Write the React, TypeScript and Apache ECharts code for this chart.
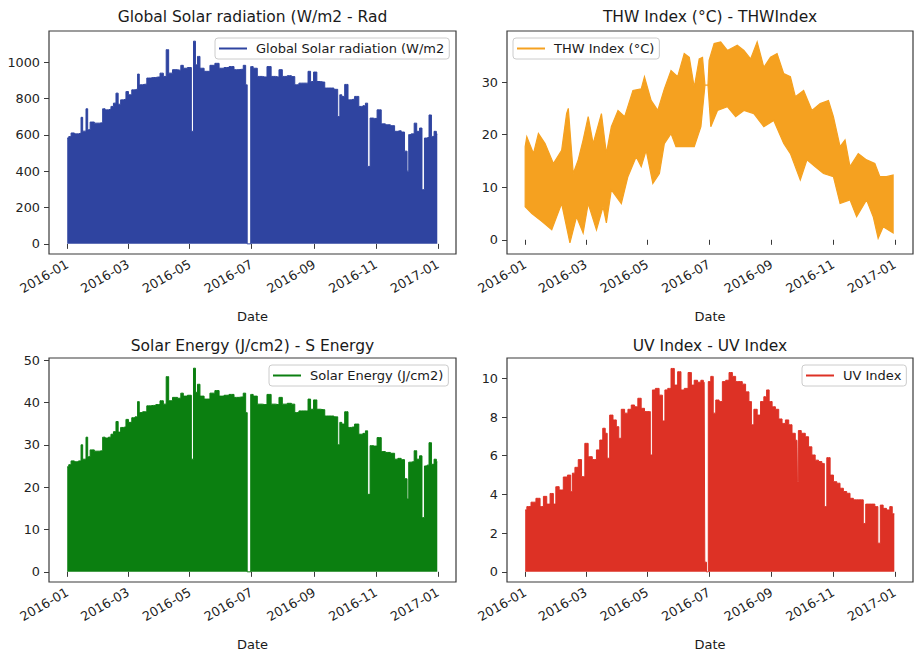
import React, { useEffect, useRef } from 'react';
import * as echarts from 'echarts';

// x tick labels (month starts shown on every panel)
const tickDates = ['2016-01-01', '2016-03-01', '2016-05-01', '2016-07-01', '2016-09-01', '2016-11-01', '2017-01-01'];

// Solar panels: day of 2016 (0 = Jan 1) and daily peak envelope
const solarDay = [
  0, 3, 4.6, 9.5, 12.8, 14.5, 16, 17.7, 19.4, 21,
  24.3, 29.2, 34.2, 35.8, 39, 42.4, 44, 47.3, 49, 51.6,
  53.9, 57.2, 58.8, 62.1, 65.4, 68.7, 70.3, 72, 77, 80.2,
  85, 90, 93.3, 96.6, 98.9, 101.5, 106.5, 111.4, 113, 116.3,
  121.2, 124, 125.5, 127.8, 129.5, 132.7, 137.7, 144.2, 147.5, 152.5,
  157.4, 162.3, 167.2, 172.2, 175.5, 177, 178.5, 180.5, 182, 185.3,
  190.2, 195.2, 199.4, 203.4, 208.3, 210, 214.9, 219.8, 223.1, 226.4,
  231.3, 236.2, 239.5, 241.2, 245.4, 247.7, 252.7, 256, 260.9, 265.8,
  268.5, 270, 272.4, 275.7, 279, 282.2, 285.5, 290.5, 293.7, 295.4,
  298, 300.3, 303.6, 308.5, 311.8, 316.7, 321.7, 325, 328.2, 331.5,
  334.8, 336.5, 338.1, 341.4, 344, 346.4, 349.6, 351.2, 354.5, 356.2,
  358.5, 361, 363.7, 365.5,
];
const radValue = [
  582, 590, 610, 605, 608, 696, 620, 620, 743, 628,
  670, 664, 666, 743, 737, 740, 756, 774, 829, 768,
  792, 795, 838, 820, 847, 850, 934, 875, 878, 912,
  915, 918, 939, 921, 1068, 939, 958, 955, 982, 966,
  970, 619, 1115, 985, 1031, 966, 949, 982, 993, 966,
  970, 975, 958, 960, 982, 875, 0, 0, 975, 966,
  921, 918, 975, 921, 918, 958, 921, 925, 920, 875,
  884, 884, 949, 893, 945, 893, 890, 857, 857, 850,
  700, 820, 811, 877, 792, 795, 811, 756, 760, 774,
  426, 692, 690, 737, 660, 655, 650, 619, 622, 615,
  510, 400, 601, 605, 664, 619, 637, 298, 582, 585,
  709, 591, 619, 604,
];
const energyValue = [
  24.8, 25.3, 26.2, 26, 26.2, 30, 26.6, 26.6, 31.8, 27.2,
  28.8, 28.5, 28.6, 31.8, 31.6, 31.8, 32.5, 33.1, 35.5, 33,
  34.1, 34.2, 36, 35.3, 36.4, 36.6, 40.2, 37.6, 37.8, 39.2,
  39.3, 39.5, 40.4, 39.6, 46.1, 40.4, 41.2, 41, 42.2, 41.5,
  41.7, 26.6, 48.1, 42.4, 44.3, 41.5, 40.8, 42.2, 42.8, 41.5,
  41.7, 41.9, 41.2, 41.3, 42.2, 37.6, 0, 0, 41.9, 41.5,
  39.6, 39.5, 41.9, 39.6, 39.5, 41.2, 39.6, 39.8, 39.6, 37.6,
  38, 38, 40.8, 38.4, 40.6, 38.4, 38.3, 36.8, 36.8, 36.6,
  30, 35.3, 34.9, 37.8, 34.1, 34.2, 34.9, 32.5, 32.7, 33.3,
  18.3, 29.8, 29.7, 31.7, 28.4, 28.2, 28, 26.6, 26.8, 26.5,
  22, 17.2, 25.9, 26, 28.6, 26.6, 27.4, 12.8, 25, 25.2,
  30.5, 25.4, 26.6, 26,
];

// THW index: daily highs and lows envelope
const thwHighDay = [
  0, 1.6, 8.2, 13.1, 19.7, 27.9, 36.1, 41, 42.7, 47.6,
  52.5, 57.4, 62.4, 67.3, 75.5, 80.4, 85.3, 91.9, 98.5, 106.7,
  114.9, 118.1, 124.7, 131.3, 137.8, 144.4, 151, 157.5, 162.5, 167.4,
  172.3, 175.6, 178, 181, 182.1, 187.1, 193.6, 200.2, 210, 216.6,
  223.2, 229.7, 236.3, 242.9, 249.4, 256, 262.6, 267.5, 275.7, 283.9,
  292.1, 300.3, 305.2, 311.8, 316.7, 321.6, 329.8, 338, 346.2, 351.2,
  357.7, 364.3,
];
const thwHigh = [
  17.7, 19.6, 16.4, 20.2, 18.3, 14.5, 17, 24, 25, 12.6,
  15.2, 19, 23.4, 18.3, 24, 16.4, 21.5, 24.6, 23.4, 28.4,
  28.7, 31, 26.5, 24.6, 28.7, 32.2, 31, 35.4, 34.7, 29,
  34.4, 34.7, 29.4, 29.4, 34.1, 37.3, 37.6, 36, 37, 36,
  34.4, 37.6, 32.8, 34.7, 35.4, 31.6, 31, 27.2, 28.4, 24.6,
  25.9, 26.5, 23.4, 17.7, 19, 13.9, 16.4, 15.2, 14.5, 12,
  12, 12.3,
];
const thwLowDay = [
  0, 6.6, 16.4, 26.3, 31.2, 36.1, 44.3, 50.9, 57.4, 62.4,
  70.6, 77.1, 80.4, 85.3, 95.2, 101.7, 109.9, 114.9, 119.8, 126.4,
  132.9, 137.8, 144.4, 149.3, 157.5, 167.4, 174, 178, 181, 183.8,
  190.4, 200.2, 208.4, 216.6, 226.4, 236.3, 246.1, 256, 262.6, 272.4,
  279, 287.2, 295.4, 305.2, 311.8, 321.6, 328.2, 338, 344.6, 349.5,
  354.5, 364.3,
];
const thwLow = [
  6.3, 5, 3.5, 1.9, 4.4, 6.9, -0.6, 4.4, 1.3, 6.9,
  1.9, 6.3, 3.2, 9.5, 6.9, 12, 15.8, 13.9, 17, 10.7,
  12.6, 18.3, 20.2, 17.7, 17.7, 17.7, 21.5, 29.4, 29.4, 21.5,
  24.6, 25.3, 23.4, 24.6, 24, 21.5, 22.7, 18.3, 16.4, 11.4,
  15.2, 13.9, 12.6, 12, 6.9, 7.6, 4.4, 7.6, 4.4, 0.3,
  2.5, 1.3,
];

// UV index daily peak envelope
const uvDay = [
  0, 3.3, 8.2, 13.1, 16.4, 19.7, 23, 26.3, 29.5, 31.2,
  36.1, 39.4, 44.3, 45.9, 47.6, 50.9, 54.2, 57.4, 60.7, 64,
  68.9, 72.2, 75.5, 78.1, 80.4, 82, 85.3, 88.6, 91.9, 93.5,
  96.8, 100.1, 103.4, 106.7, 109.9, 113.2, 116.5, 119.8, 123.1, 124.7,
  127.3, 130.6, 134.6, 137.2, 139.5, 142.8, 146, 149.3, 152.6, 155.9,
  159.2, 163.4, 165.7, 169, 172.3, 175.6, 177.2, 178.5, 180.5, 182.1,
  185.4, 187, 190.4, 193.6, 196.9, 200.2, 203.5, 206.8, 210, 213.3,
  216.6, 219.9, 223.2, 224.8, 228.1, 231.4, 234.7, 237.9, 240.2, 242.9,
  246.1, 249.4, 252.7, 256, 259.3, 262.6, 265.8, 269.1, 270, 271,
  275.7, 279, 282.2, 285.5, 288.8, 292.1, 295.4, 297, 300.3, 303.6,
  306.9, 310.1, 313.4, 316.7, 320, 323.3, 326.6, 329.8, 333.1, 336.4,
  338, 341.3, 344.6, 347.9, 350.5, 352.8, 356.1, 359.4, 362.6, 364.3,
  365.5,
];
const uvValue = [
  3.2, 3.37, 3.6, 3.8, 3.37, 3.9, 3.5, 4.05, 3.5, 4.4,
  4.23, 4.9, 5.0, 4.15, 5.1, 5.4, 5.8, 4.92, 6.64, 5.95,
  5.8, 6.3, 6.81, 7.42, 7.16, 5.87, 8.1, 7.85, 7.5, 6.9,
  8.4, 8.2, 8.4, 8.62, 8.53, 8.97, 8.45, 8.28, 8.28, 6.04,
  9.4, 9.48, 9.13, 7.8, 9.4, 9.48, 10.51, 9.65, 10.34, 9.4,
  9.48, 10.3, 9.65, 9.9, 9.8, 9.9, 9.8, 0.5, 0, 9.83,
  10.1, 8.2, 8.88, 8.8, 9.83, 9.9, 10.3, 10.1, 9.83, 9.83,
  9.7, 9.3, 8.8, 7.6, 8.4, 8.1, 8.8, 9.05, 9.4, 8.8,
  8.53, 8.4, 7.9, 7.67, 7.85, 7.6, 7.16, 6.8, 4.66, 7.3,
  7.16, 6.98, 6.46, 6.04, 5.77, 5.7, 5.6, 3.37, 5.9, 5.0,
  4.66, 4.58, 4.32, 4.15, 4.06, 3.8, 3.72, 3.72, 3.72, 2.5,
  3.5, 3.5, 3.5, 3.37, 1.48, 3.45, 3.28, 3.2, 3.37, 3.0,
  3.0,
];

const radTicks = [0, 200, 400, 600, 800, 1000];
const thwTicks = [0, 10, 20, 30];
const energyTicks = [0, 10, 20, 30, 40, 50];
const uvTicks = [0, 2, 4, 6, 8, 10];

const FONT = "'DejaVu Sans', 'Liberation Sans', sans-serif";
const DAY = 86400000;
const T0 = Date.UTC(2016, 0, 1);
const toTime = (d: number) => T0 + d * DAY;
const xTicks = tickDates.map((s) => Date.parse(s + 'T00:00:00Z'));
const fmtMonth = (v: number) => {
  const d = new Date(v);
  return d.getUTCFullYear() + '-' + String(d.getUTCMonth() + 1).padStart(2, '0');
};
const pairs = (days: number[], vals: number[]) => days.map((d, i) => [toTime(d), vals[i]]);

const BLUE = '#2F44A0';
const ORANGE = '#F5A120';
const GREEN = '#0B7F10';
const RED = '#DD3125';
const AXIS = '#3a3a3a';
const TICKFONT = 12.8;

function buildOption() {
  const grids = [
    { left: 49, top: 31, width: 407, height: 223 },
    { left: 507, top: 31, width: 406, height: 223 },
    { left: 49, top: 358, width: 407, height: 224 },
    { left: 507, top: 358, width: 406, height: 224 },
  ].map((g) => ({ ...g, show: true, borderColor: AXIS, borderWidth: 1.2, backgroundColor: '#fff' }));

  const xAxis = [0, 1, 2, 3].map((gi) => ({
    type: 'value',
    gridIndex: gi,
    min: T0 - 18 * DAY,
    max: T0 + 384 * DAY,
    name: 'Date',
    nameLocation: 'middle',
    nameGap: 56,
    nameTextStyle: { fontSize: 13, color: '#1a1a1a', fontFamily: FONT },
    axisLine: { show: false },
    splitLine: { show: false },
    axisTick: { show: true, customValues: xTicks, length: 5, lineStyle: { color: AXIS, width: 1 } },
    axisLabel: {
      customValues: xTicks,
      rotate: 30,
      margin: 9,
      fontSize: TICKFONT,
      color: '#222',
      fontFamily: FONT,
      formatter: (v: number) => fmtMonth(v),
    },
  }));

  const yDefs = [
    { min: -55.75, max: 1170.75, ticks: radTicks },
    { min: -2.7, max: 39.7, ticks: thwTicks },
    { min: -2.4, max: 50.5, ticks: energyTicks },
    { min: -0.525, max: 11.05, ticks: uvTicks },
  ];
  const yAxis = yDefs.map((y, gi) => ({
    type: 'value',
    gridIndex: gi,
    min: y.min,
    max: y.max,
    axisLine: { show: false },
    splitLine: { show: false },
    axisTick: { show: true, customValues: y.ticks, length: 5, lineStyle: { color: AXIS, width: 1 } },
    axisLabel: {
      customValues: y.ticks,
      margin: 9,
      fontSize: TICKFONT,
      color: '#222',
      fontFamily: FONT,
      formatter: (v: number) => String(v),
    },
  }));

  const solarSeries = (name: string, gi: number, color: string, data: number[][]) => ({
    type: 'line',
    name,
    xAxisIndex: gi,
    yAxisIndex: gi,
    data,
    step: 'middle',
    symbol: 'none',
    showSymbol: false,
    lineStyle: { color, width: 1 },
    itemStyle: { color },
    areaStyle: { color, opacity: 1 },
  });

  const highPts = pairs(thwHighDay, thwHigh);
  const lowPts = pairs(thwLowDay, thwLow);

  const series = [
    solarSeries('Global Solar radiation (W/m2', 0, BLUE, pairs(solarDay, radValue)),
    {
      type: 'custom',
      name: 'THW Index (°C)',
      coordinateSystem: 'cartesian2d',
      xAxisIndex: 1,
      yAxisIndex: 1,
      data: highPts.slice(0, 1),
      encode: { x: 0, y: 1 },
      itemStyle: { color: ORANGE },
      clip: true,
      renderItem: (_params: any, api: any) => {
        const pts: number[][] = [];
        highPts.forEach((p) => pts.push(api.coord(p)));
        for (let i = lowPts.length - 1; i >= 0; i--) pts.push(api.coord(lowPts[i]));
        return {
          type: 'polygon',
          shape: { points: pts },
          style: { fill: ORANGE, stroke: ORANGE, lineWidth: 1.2, lineJoin: 'miter' },
        };
      },
    },
    solarSeries('Solar Energy (J/cm2)', 2, GREEN, pairs(solarDay, energyValue)),
    solarSeries('UV Index', 3, RED, pairs(uvDay, uvValue)),
  ];

  const legendCommon = {
    orient: 'horizontal',
    icon: 'rect',
    itemWidth: 28,
    itemHeight: 2,
    padding: [4, 5, 4, 4],
    backgroundColor: 'rgba(255,255,255,0.85)',
    borderColor: '#cccccc',
    borderWidth: 1,
    borderRadius: 3,
    selectedMode: false,
    textStyle: { fontSize: 13, color: '#1a1a1a', fontFamily: FONT, padding: [0, 0, 0, 4] },
  };
  const legend = [
    { ...legendCommon, data: ['Global Solar radiation (W/m2'], left: 215, top: 38 },
    { ...legendCommon, data: ['THW Index (°C)'], left: 513, top: 38 },
    { ...legendCommon, data: ['Solar Energy (J/cm2)'], left: 269, top: 365 },
    { ...legendCommon, data: ['UV Index'], left: 802, top: 365 },
  ];

  const titleStyle = (text: string) => ({
    text,
    fontSize: 15.5,
    fontFamily: FONT,
    fill: '#1a1a1a',
    align: 'center',
    verticalAlign: 'middle',
  });
  const graphic = [
    { type: 'text', x: 252.5, y: 17, style: titleStyle('Global Solar radiation (W/m2 - Rad') },
    { type: 'text', x: 710, y: 17, style: titleStyle('THW Index (°C) - THWIndex') },
    { type: 'text', x: 252.5, y: 345.5, style: titleStyle('Solar Energy (J/cm2) - S Energy') },
    { type: 'text', x: 710, y: 345.5, style: titleStyle('UV Index - UV Index') },
  ];

  return {
    animation: false,
    backgroundColor: '#ffffff',
    grid: grids,
    xAxis,
    yAxis,
    series,
    legend,
    graphic,
  };
}

export default function App() {
  const ref = useRef<HTMLDivElement>(null);
  useEffect(() => {
    if (!ref.current) return;
    const chart = echarts.init(ref.current, null, { renderer: 'svg' });
    chart.setOption(buildOption() as any);
    return () => chart.dispose();
  }, []);
  return (
    <div
      ref={ref}
      style={{ position: 'fixed', left: 0, top: 0, width: 915, height: 652, background: '#fff' }}
    />
  );
}
